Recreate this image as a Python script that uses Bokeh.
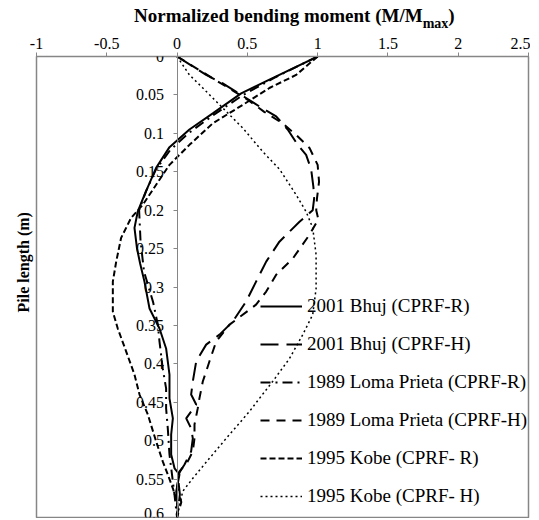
from bokeh.plotting import figure
from bokeh.models import Range1d, FixedTicker, Legend, LegendItem, Div, Title
from bokeh.layouts import column
from bokeh.embed import file_html
from bokeh.resources import INLINE

# ---------------- data ----------------
x_ticks = [-1, -0.5, 0, 0.5, 1, 1.5, 2, 2.5]
x_tick_labels = ["-1", "-0.5", "0", "0.5", "1", "1.5", "2", "2.5"]
y_ticks = [0, 0.05, 0.1, 0.15, 0.2, 0.25, 0.3, 0.35, 0.4, 0.45, 0.5, 0.55, 0.6]
y_tick_labels = ["0", "0.05", "0.1", "0.15", "0.2", "0.25", "0.3", "0.35",
                 "0.4", "0.45", "0.5", "0.55", "0.6"]

series_names = ["2001 Bhuj (CPRF-R)", "2001 Bhuj (CPRF-H)",
                "1989 Loma Prieta (CPRF-R)", "1989 Loma Prieta (CPRF-H)",
                "1995 Kobe (CPRF- R)", "1995 Kobe (CPRF- H)"]

bhuj_r_x = [1.0, 0.657, 0.456, 0.254, 0.088, -0.054, -0.149, -0.232, -0.28, -0.303,
            -0.285, -0.262, -0.232, -0.196, -0.125, -0.078, -0.054, -0.054, -0.03,
            -0.042, -0.042, -0.018, 0.017, -0.006, 0.005, 0.0]
bhuj_r_y = [0.0, 0.030, 0.048, 0.074, 0.095, 0.118, 0.145, 0.18, 0.202, 0.223,
            0.25, 0.27, 0.293, 0.328, 0.354, 0.38, 0.414, 0.445, 0.471,
            0.492, 0.518, 0.536, 0.544, 0.566, 0.588, 0.6]

bhuj_h_x = [0.0, 0.207, 0.325, 0.491, 0.586, 0.705, 0.787, 0.858, 0.918, 0.954,
            0.97, 0.975, 0.965, 0.871, 0.728, 0.634, 0.562, 0.491, 0.396, 0.302,
            0.207, 0.136, 0.112, 0.1, 0.136, 0.065, 0.1, 0.112, 0.1, 0.053,
            0.005, 0.02, 0.0]
bhuj_h_y = [0.0, 0.024, 0.035, 0.054, 0.065, 0.078, 0.095, 0.115, 0.128, 0.147,
            0.17, 0.185, 0.2, 0.215, 0.241, 0.267, 0.293, 0.319, 0.345, 0.362,
            0.375, 0.397, 0.423, 0.44, 0.453, 0.471, 0.484, 0.497, 0.514, 0.531,
            0.545, 0.57, 0.6]

loma_r_x = [1.0, 0.7, 0.47, 0.26, 0.08, -0.05, -0.15, -0.22, -0.27, -0.26,
            -0.235, -0.17, -0.137, -0.125, -0.102, -0.078, -0.078, -0.066,
            -0.054, -0.03, -0.018, 0.0]
loma_r_y = [0.0, 0.027, 0.05, 0.076, 0.1, 0.122, 0.147, 0.175, 0.2, 0.24,
            0.28, 0.32, 0.349, 0.371, 0.406, 0.432, 0.458, 0.484,
            0.518, 0.553, 0.571, 0.6]

loma_h_x = [0.0, 0.25, 0.5, 0.62, 0.75, 0.847, 0.942, 1.0, 1.01, 0.995, 0.99,
            1.005, 0.942, 0.823, 0.705, 0.634, 0.562, 0.373, 0.278, 0.23, 0.183,
            0.159, 0.147, 0.124, 0.124, 0.112, 0.076, 0.017, 0.0, 0.03, 0.0]
loma_h_y = [0.0, 0.028, 0.056, 0.072, 0.087, 0.102, 0.119, 0.141, 0.163, 0.185, 0.2,
            0.212, 0.232, 0.263, 0.284, 0.306, 0.323, 0.349, 0.371, 0.397, 0.423,
            0.445, 0.458, 0.479, 0.497, 0.514, 0.527, 0.54, 0.56, 0.58, 0.6]

kobe_r_x = [1.0, 0.847, 0.657, 0.467, 0.254, 0.088, -0.054, -0.149, -0.244, -0.327,
            -0.398, -0.433, -0.457, -0.457, -0.422, -0.362, -0.303, -0.267, -0.208,
            -0.149, -0.102, -0.066, -0.03, 0.0, 0.0]
kobe_r_y = [0.0, 0.024, 0.041, 0.063, 0.087, 0.115, 0.141, 0.167, 0.193, 0.21,
            0.236, 0.267, 0.293, 0.332, 0.354, 0.384, 0.414, 0.44, 0.466,
            0.501, 0.527, 0.544, 0.562, 0.58, 0.6]

kobe_h_x = [0.0, 0.088, 0.183, 0.325, 0.467, 0.61, 0.73, 0.847, 0.918, 0.965,
            0.989, 0.989, 0.965, 0.894, 0.8, 0.68, 0.586, 0.515, 0.373, 0.23,
            0.112, 0.04, 0.0]
kobe_h_y = [0.0, 0.024, 0.041, 0.067, 0.093, 0.124, 0.147, 0.18, 0.202, 0.223,
            0.258, 0.302, 0.336, 0.362, 0.393, 0.423, 0.445, 0.462, 0.492, 0.523,
            0.549, 0.566, 0.6]

# ---------------- figure ----------------
FONT = "Liberation Serif"
GRAY = "#868686"

p = figure(width=530, height=490,
           x_range=Range1d(-1, 2.5), y_range=Range1d(0.6, 0),
           x_axis_location="above", y_axis_location="left",
           output_backend="svg", toolbar_location=None,
           min_border_left=36, min_border_right=2,
           min_border_top=28, min_border_bottom=1)
p.grid.visible = False
p.outline_line_color = GRAY
p.outline_line_width = 1.5
p.background_fill_color = "white"
p.border_fill_color = "white"

xa = p.xaxis[0]
xa.ticker = FixedTicker(ticks=x_ticks)
xa.major_label_overrides = {t: l for t, l in zip(x_ticks, x_tick_labels)}
xa.minor_tick_line_color = None
xa.major_tick_in = 0
xa.major_tick_out = 4
xa.axis_line_color = GRAY
xa.major_tick_line_color = GRAY
xa.major_label_text_font = FONT
xa.major_label_text_font_size = "16px"
xa.major_label_text_color = "black"
xa.major_label_standoff = 4

ya = p.yaxis[0]
ya.fixed_location = 0
ya.ticker = FixedTicker(ticks=y_ticks)
ya.major_label_overrides = {t: l for t, l in zip(y_ticks, y_tick_labels)}
ya.minor_tick_line_color = None
ya.major_tick_in = 0
ya.major_tick_out = 4
ya.axis_line_color = GRAY
ya.major_tick_line_color = GRAY
ya.major_label_text_font = FONT
ya.major_label_text_font_size = "16px"
ya.major_label_text_color = "black"
ya.major_label_standoff = 9

# y title as a side title on the left panel (aligned from the bottom, shifted up)
ytitle = Title(text="Pile length (m)", align="left", offset=205, standoff=9,
               text_font=FONT, text_font_size="16px", text_font_style="bold",
               text_color="black")
p.add_layout(ytitle, "left")

styles = [
    dict(line_dash="solid", line_width=2.0),
    dict(line_dash="18 8", line_width=2.0),
    dict(line_dash="10 5 2 5", line_width=2.0),
    dict(line_dash="9 7", line_width=2.0),
    dict(line_dash="6 3", line_width=2.0),
    dict(line_dash="2 3", line_width=1.5),
]
xs = [bhuj_r_x, bhuj_h_x, loma_r_x, loma_h_x, kobe_r_x, kobe_h_x]
ys = [bhuj_r_y, bhuj_h_y, loma_r_y, loma_h_y, kobe_r_y, kobe_h_y]

items = []
for name, x, y, st in zip(series_names, xs, ys, styles):
    r = p.line(x, y, line_color="black", **st)
    items.append(LegendItem(label=name, renderers=[r]))

legend = Legend(items=items, location=(224, 10), orientation="vertical",
                glyph_width=42, glyph_height=22, label_height=22,
                label_standoff=5, spacing=16, padding=0, margin=0,
                border_line_color=None, background_fill_alpha=0,
                label_text_font=FONT, label_text_font_size="19px",
                label_text_color="black")
p.add_layout(legend)

# ---------------- title (HTML, with subscript) ----------------
title_html = (
    '<div style="font-family:\'Liberation Serif\'; font-size:19px; font-weight:bold; '
    'color:black; white-space:nowrap; padding-left:134px; padding-top:6px; '
    'line-height:20px;">Normalized bending moment (M/M'
    '<sub style="font-size:14px; line-height:0; vertical-align:-6px;">max</sub>)</div>'
)
title = Div(text=title_html, width=530, height=28, margin=(0, 0, 0, 0))

layout = column(title, p, spacing=0, margin=(0, 0, 0, 0))

open("out.html", "w").write(file_html(layout, INLINE))
